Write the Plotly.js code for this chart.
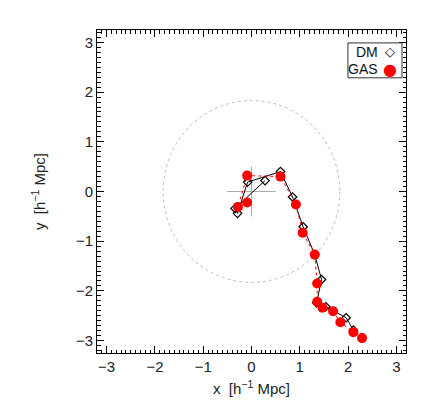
<!DOCTYPE html>
<html>
<head>
<meta charset="utf-8">
<script src="https://cdn.plot.ly/plotly-3.0.1.min.js"></script>
<style>html,body{margin:0;padding:0;background:#fff;}#plot{width:436px;height:415px;}</style>
</head>
<body>
<div id="plot"></div>
<script>
// DM trajectory (black diamonds)
const dmX = [0.28, -0.34, -0.29, -0.08, 0.60, 0.85, 1.07, 1.31, 1.45, 1.35, 1.54, 1.96, 2.11];
const dmY = [0.22, -0.34, -0.44, 0.19, 0.40, -0.11, -0.71, -1.27, -1.77, -2.24, -2.32, -2.54, -2.79];
// GAS trajectory (red circles)
const gasX = [-0.09, -0.28, -0.09, 0.60, 0.92, 1.06, 1.31, 1.36, 1.36, 1.47, 1.69, 1.84, 2.11, 2.29];
const gasY = [-0.22, -0.31, 0.32, 0.30, -0.26, -0.83, -1.27, -1.85, -2.22, -2.34, -2.41, -2.63, -2.83, -2.95];
// reference circle radius and crosshair half-length
const circleR = 1.83;
const crossHalf = 0.5;
const legendNames = ['DM', 'GAS'];

const font = {family: 'Liberation Sans, Arial, sans-serif', size: 15, color: '#222'};
const legFont = {family: 'Liberation Sans, Arial, sans-serif', size: 14, color: '#111'};

const traces = [
  {x: dmX, y: dmY, type: 'scatter', mode: 'lines+markers', name: 'DM',
   line: {color: '#000', width: 1},
   marker: {symbol: 'diamond-open', size: 6.5, color: '#000', line: {width: 1.2, color: '#000'}}},
  {x: gasX, y: gasY, type: 'scatter', mode: 'lines+markers', name: 'GAS',
   line: {color: '#ff0000', width: 1, dash: 'dot'},
   marker: {symbol: 'circle', size: 10, color: '#ff0000', line: {width: 0}}}
];

const axisCommon = {
  showgrid: false, zeroline: false, showline: true, linecolor: '#000', linewidth: 1,
  mirror: 'allticks', ticks: 'inside', ticklen: 7, tickwidth: 1, tickcolor: '#000',
  dtick: 1, tick0: 0, tickfont: font,
  minor: {ticks: 'inside', ticklen: 3.5, dtick: 0.1, tickcolor: '#000', tickwidth: 1, showgrid: false}
};

const layout = {
  width: 436, height: 415,
  margin: {l: 97, r: 30, t: 30, b: 62},
  paper_bgcolor: '#fff', plot_bgcolor: '#fff',
  showlegend: false,
  font: font,
  xaxis: Object.assign({}, axisCommon, {range: [-3.2, 3.2],
    title: {text: 'x  [h<sup>\u22121</sup> Mpc]', font: font, standoff: 9}}),
  yaxis: Object.assign({}, axisCommon, {range: [-3.25, 3.25],
    title: {text: 'y  [h<sup>\u22121</sup> Mpc]', font: font, standoff: 26}}),
  shapes: [
    {type: 'circle', xref: 'x', yref: 'y', x0: -circleR, x1: circleR, y0: -circleR, y1: circleR,
     line: {color: '#b5b5b5', width: 0.9, dash: 'dot'}, layer: 'below'},
    {type: 'line', xref: 'x', yref: 'y', x0: -crossHalf, x1: crossHalf, y0: 0, y1: 0,
     line: {color: '#aaa', width: 1}, layer: 'below'},
    {type: 'line', xref: 'x', yref: 'y', x0: 0, x1: 0, y0: -crossHalf, y1: crossHalf,
     line: {color: '#aaa', width: 1}, layer: 'below'},
    {type: 'rect', xref: 'paper', yref: 'paper', x0: 0.812, x1: 0.987, y0: 0.852, y1: 0.96,
     line: {color: '#333', width: 1}, fillcolor: '#fff'}
  ],
  annotations: [
    {xref: 'paper', yref: 'paper', x: 0.915, y: 0.932, xanchor: 'right', yanchor: 'middle',
     text: legendNames[0], showarrow: false, font: legFont},
    {xref: 'paper', yref: 'paper', x: 0.915, y: 0.88, xanchor: 'right', yanchor: 'middle',
     text: legendNames[1], showarrow: false, font: legFont},
    {xref: 'paper', yref: 'paper', x: 0.948, y: 0.934, xanchor: 'center', yanchor: 'middle',
     text: '<b>\u25C7</b>', showarrow: false, font: {family: 'DejaVu Sans', size: 13, color: '#000'}},
    {xref: 'paper', yref: 'paper', x: 0.948, y: 0.878, xanchor: 'center', yanchor: 'middle',
     text: '\u25CF', showarrow: false, font: {family: 'DejaVu Sans', size: 16, color: '#ff0000'}}
  ]
};

Plotly.newPlot('plot', traces, layout, {displayModeBar: false, staticPlot: true});
</script>
</body>
</html>
